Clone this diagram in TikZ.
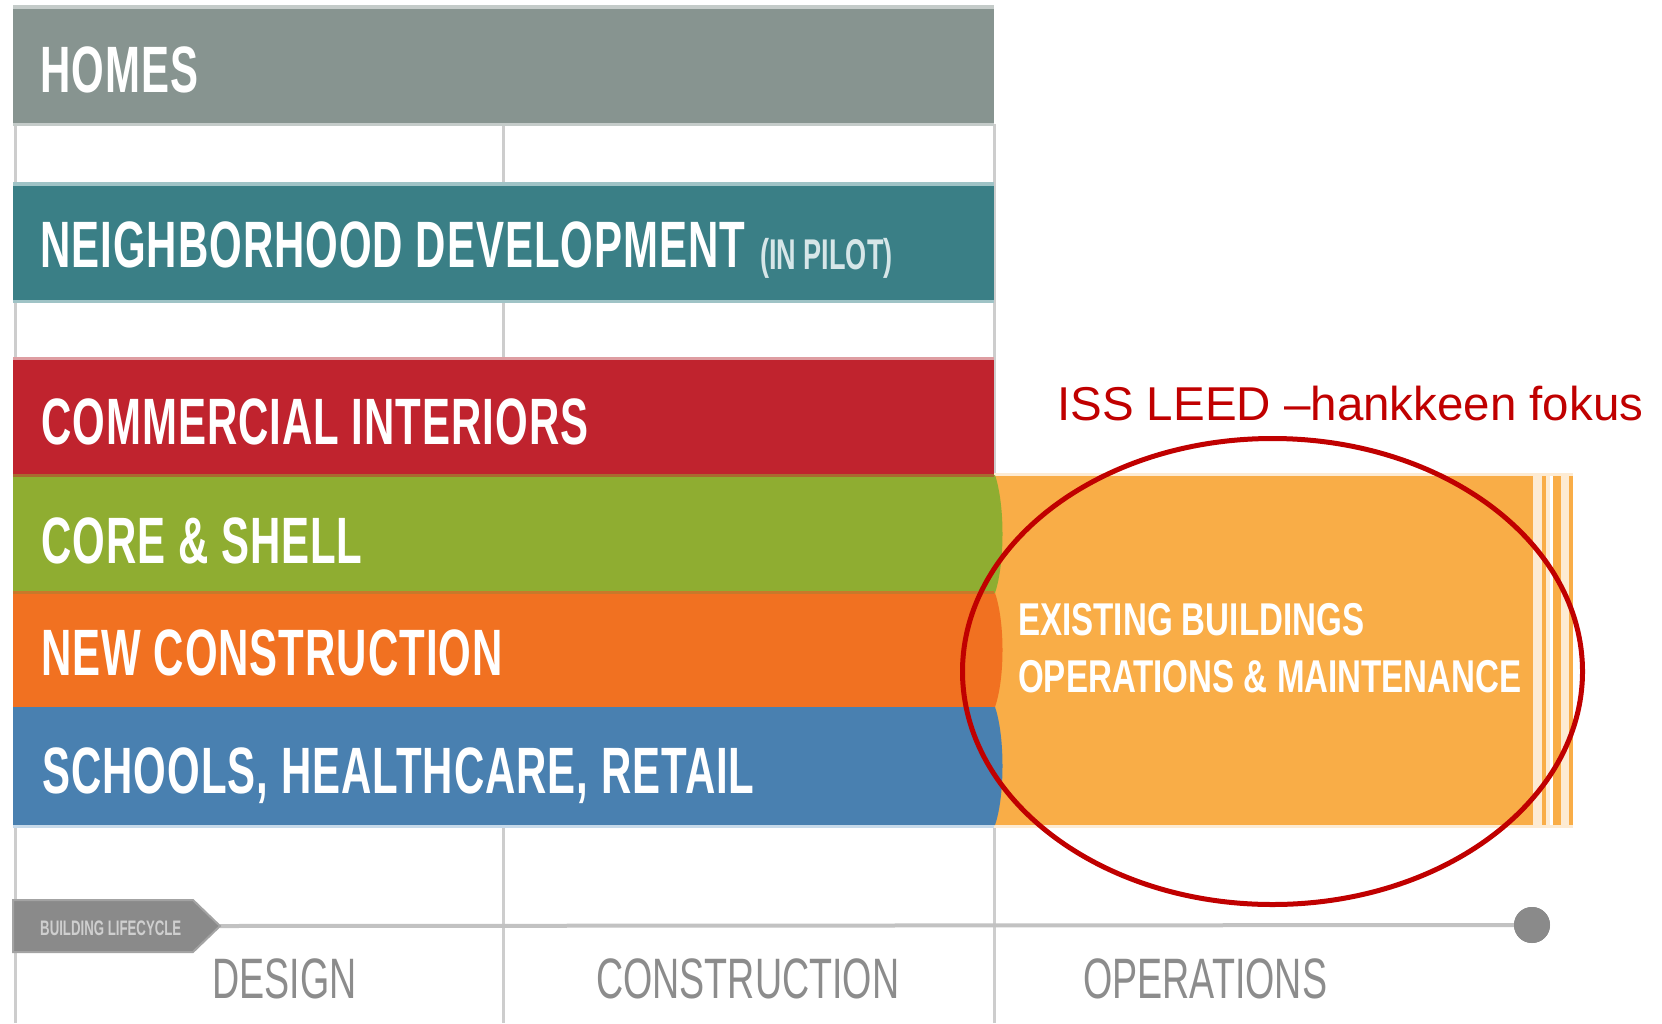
\documentclass[tikz,border=0pt]{standalone}
\usepackage{fontspec}
\setmainfont{Liberation Sans}
\newfontfamily\bandfont[FakeStretch=0.64,LetterSpace=1.5]{Liberation Sans}
\newfontfamily\tagfont[FakeStretch=0.63]{Liberation Sans}
\newfontfamily\ebfont[FakeStretch=0.72]{Liberation Sans}
\newfontfamily\phasefont[FakeStretch=0.66]{Liberation Sans}
\usetikzlibrary{shapes.geometric}
\definecolor{homes}{HTML}{879490}
\definecolor{homesl}{HTML}{C4CBC9}
\definecolor{nd}{HTML}{3A7F86}
\definecolor{ndl}{HTML}{9FC3C6}
\definecolor{ndtext}{HTML}{D6E6E8}
\definecolor{ci}{HTML}{C0232E}
\definecolor{cil}{HTML}{DE9DA2}
\definecolor{cs}{HTML}{8FAD31}
\definecolor{nc}{HTML}{F17121}
\definecolor{shr}{HTML}{4980B0}
\definecolor{shrl}{HTML}{C7DAEA}
\definecolor{eb}{HTML}{F9AD47}
\definecolor{ebl}{HTML}{FDEBD3}
\definecolor{sepa}{HTML}{A86A30}
\definecolor{sepb}{HTML}{C8792A}
\definecolor{gridgray}{HTML}{CDCDCD}
\definecolor{lineg}{HTML}{C2C2C2}
\definecolor{tagg}{HTML}{8A8A8A}
\definecolor{tagl}{HTML}{A3A3A3}
\definecolor{tagtext}{HTML}{CFCFCF}
\definecolor{phaseg}{HTML}{8C8C8C}
\definecolor{focusred}{HTML}{C00000}
\tikzset{
  bandtext/.style={anchor=base west, inner sep=0pt, text=white,
    font={\bandfont\bfseries\fontsize{65.6}{70}\selectfont}},
  ebtext/.style={anchor=base west, inner sep=0pt, text=white,
    font={\ebfont\bfseries\fontsize{46}{50}\selectfont}},
  phasetext/.style={anchor=base west, inner sep=0pt, text=phaseg,
    font={\phasefont\fontsize{57}{60}\selectfont}},
  gridline/.style={draw=gridgray, line width=3pt},
}
\begin{document}
\begin{tikzpicture}[x=1pt,y=-1pt]
\useasboundingbox (0,0) rectangle (1662,1023);
\fill[white] (0,0) rectangle (1662,1023);

% grid lines
\draw[gridline] (15,124) -- (15,1023);
\draw[gridline] (503,124) -- (503,1023);
\draw[gridline] (994,124) -- (994,1023);

% HOMES
\fill[homesl] (13,5) rectangle (994,126);
\fill[homes] (13,9) rectangle (994,123);
\node[bandtext] (homes) at (40,92) {HOMES};

% NEIGHBORHOOD DEVELOPMENT
\fill[ndl] (13,182) rectangle (994,303);
\fill[nd] (13,186) rectangle (994,300);
\node[bandtext] (nd) at (40,267) {NEIGHBORHOOD DEVELOPMENT};
\node[anchor=base west, inner sep=0pt, text=ndtext,
  font={\tagfont\bfseries\fontsize{43}{46}\selectfont}] (pilot) at (760,269) {(IN PILOT)};

% Existing buildings region with stripes
\fill[ebl] (994,473) rectangle (1573,828);
\fill[eb] (994,476) rectangle (1533,825);
\fill[eb] (1542,476) rectangle (1546,825);
\fill[white] (1550,476) rectangle (1553,825);
\fill[eb] (1553,476) rectangle (1561,825);
\fill[eb] (1569,476) rectangle (1573,825);

% COMMERCIAL INTERIORS
\fill[cil] (13,357) rectangle (994,476);
\fill[ci] (13,360) rectangle (994,475);

% bands with bulging right edges
\fill[cs] (13,475) -- (995,475) .. controls (1005,505) and (1005,563) .. (995,593) -- (13,593) -- cycle;
\fill[nc] (13,593) -- (995,593) .. controls (1005,622) and (1005,678) .. (995,707) -- (13,707) -- cycle;
\fill[shr] (13,707) -- (995,707) .. controls (1005,736) and (1005,796) .. (995,825) -- (13,825) -- cycle;
\fill[sepa] (13,474) rectangle (994,477);
\fill[sepb] (13,591) rectangle (994,594);
\fill[shrl] (13,825) rectangle (994,828);

\node[bandtext] (ci) at (41,444) {COMMERCIAL INTERIORS};
\node[bandtext] (cs) at (41,563) {CORE \& SHELL};
\node[bandtext] (nc) at (41,675) {NEW CONSTRUCTION};
\node[bandtext] (shr) at (42,793) {SCHOOLS, HEALTHCARE, RETAIL};

\node[ebtext] (eb1) at (1018,635) {EXISTING BUILDINGS};
\node[ebtext] (eb2) at (1018,692) {OPERATIONS \& MAINTENANCE};

% timeline
\coordinate (tagtip) at (220,926);
\node[circle, fill=tagg, minimum size=36pt, inner sep=0pt] (dot) at (1532,925) {};
\draw[lineg, line width=4pt] (tagtip) -- (dot.center);
\node[circle, fill=tagg, minimum size=36pt, inner sep=0pt] (dottop) at (dot.center) {};
\filldraw[fill=tagg, draw=tagl, line width=2pt] (13,900) -- (193,900) -- (tagtip) -- (193,952) -- (13,952) -- cycle;
\node[anchor=base west, inner sep=0pt, text=tagtext,
  font={\tagfont\bfseries\fontsize{21}{23}\selectfont}] (tag) at (40,935) {BUILDING LIFECYCLE};

% phases
\node[phasetext] (design) at (212,998) {DESIGN};
\node[phasetext] (construction) at (596,998) {CONSTRUCTION};
\node[phasetext] (operations) at (1083,998) {OPERATIONS};

% focus ellipse and label
\node[ellipse, draw=focusred, line width=5pt, minimum width=620pt, minimum height=466pt, inner sep=0pt] (focus) at (1272.5,671.5) {};
\node[anchor=base west, inner sep=0pt, text=focusred,
  font={\fontsize{47.5}{52}\selectfont}] (label) at (1057,420) {ISS LEED –hankkeen fokus};
\end{tikzpicture}
\end{document}
